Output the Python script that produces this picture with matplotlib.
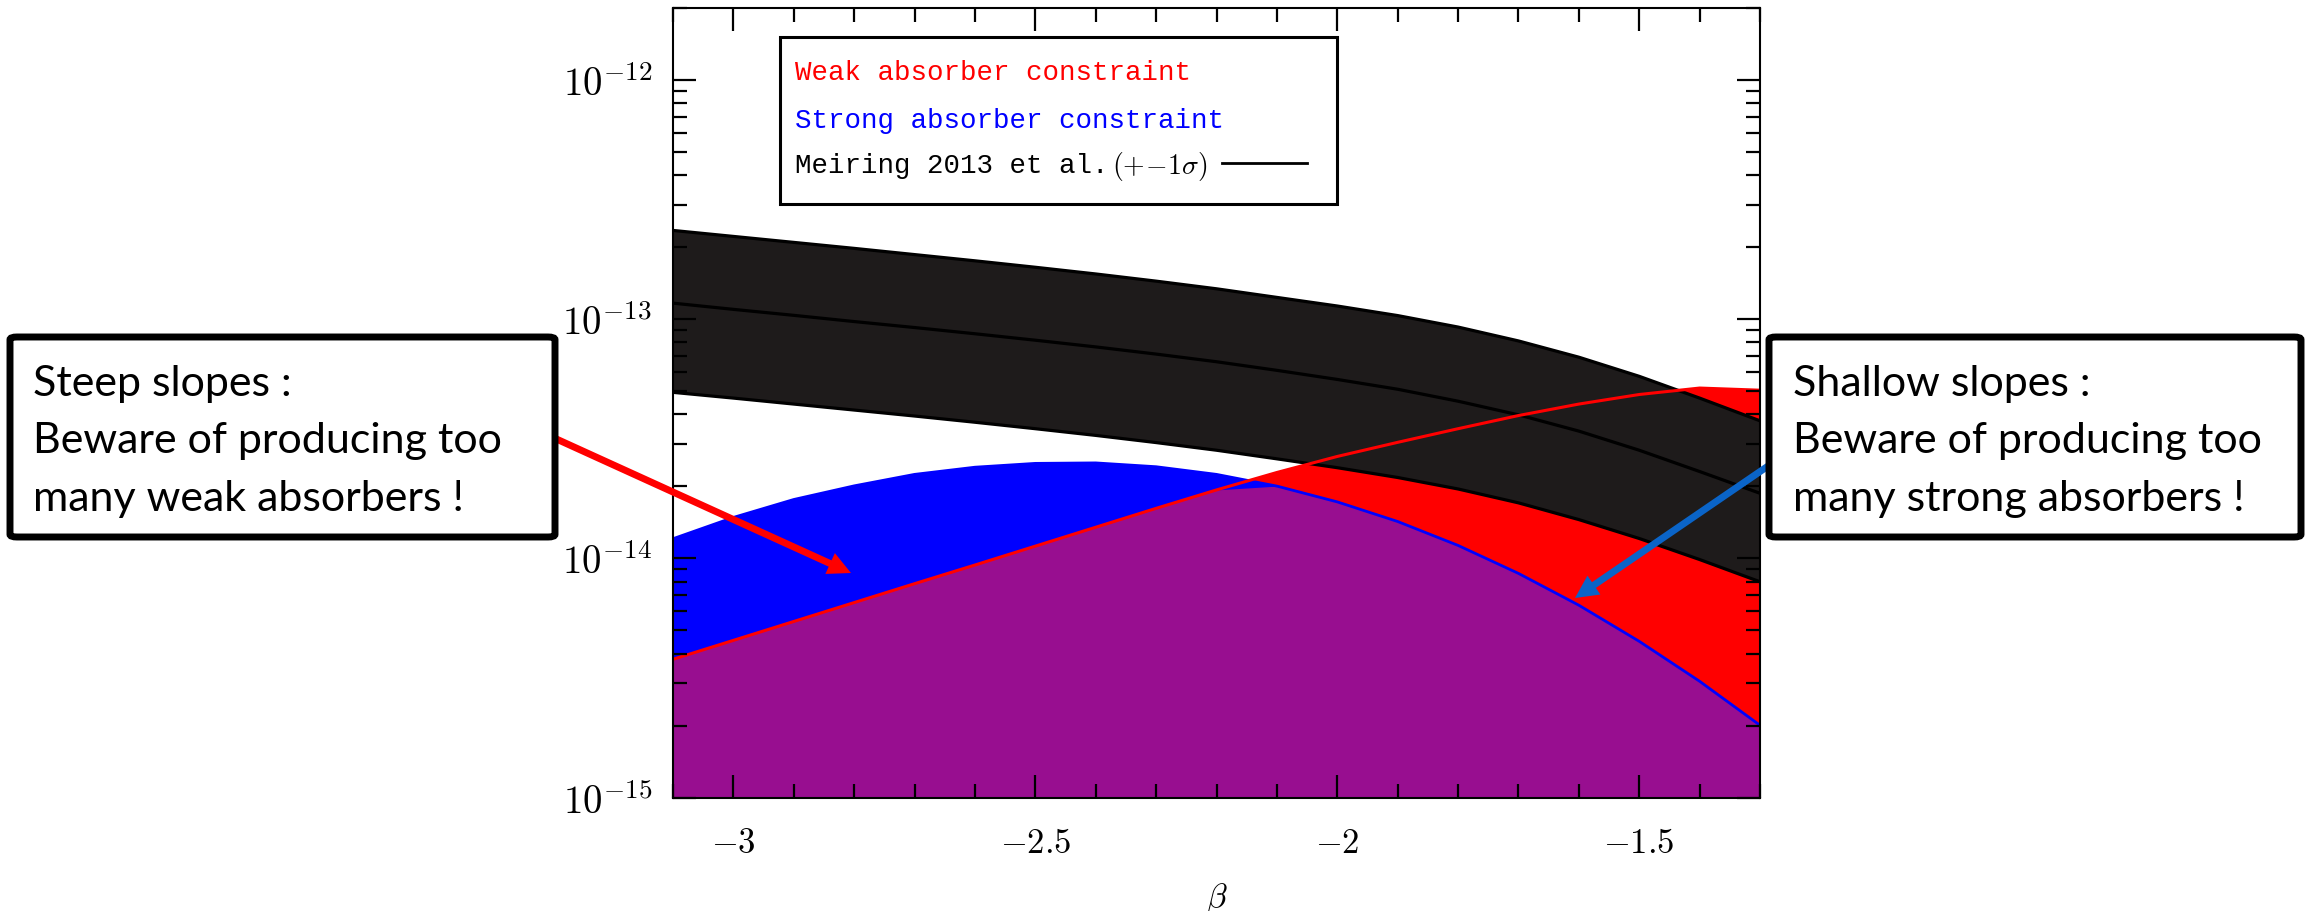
import numpy as np
import matplotlib.pyplot as plt
from matplotlib.patches import Rectangle, FancyBboxPatch
from matplotlib.ticker import LogLocator, MultipleLocator, NullFormatter

plt.rcParams['mathtext.fontset'] = 'cm'

# slope beta, and log10 of the constraints read along it
beta = [-3.1, -3.0, -2.9, -2.8, -2.7, -2.6, -2.5, -2.4, -2.3, -2.2,
        -2.1, -2.0, -1.9, -1.8, -1.7, -1.6, -1.5, -1.4, -1.3]
# Meiring et al. 2013, +/- 1 sigma band and central value
meiring_hi = [-12.629, -12.654, -12.679, -12.704, -12.730, -12.756, -12.783, -12.811, -12.841, -12.873,
              -12.909, -12.945, -12.985, -13.033, -13.091, -13.159, -13.239, -13.330, -13.425]
meiring_mid = [-12.933, -12.959, -12.984, -13.010, -13.035, -13.061, -13.088, -13.116, -13.146, -13.178,
               -13.214, -13.252, -13.293, -13.343, -13.400, -13.468, -13.548, -13.637, -13.728]
meiring_lo = [-13.306, -13.330, -13.355, -13.380, -13.405, -13.431, -13.458, -13.486, -13.516, -13.548,
              -13.584, -13.621, -13.662, -13.710, -13.768, -13.838, -13.917, -14.005, -14.098]
# upper limits from weak and strong absorbers
weak_lim = [-14.422, -14.343, -14.264, -14.185, -14.106, -14.028, -13.949, -13.870, -13.791, -13.714,
            -13.641, -13.574, -13.515, -13.458, -13.403, -13.355, -13.315, -13.288, -13.297]
strong_lim = [-13.918, -13.829, -13.754, -13.697, -13.649, -13.619, -13.603, -13.601, -13.617, -13.649,
              -13.698, -13.764, -13.846, -13.946, -14.063, -14.196, -14.347, -14.514, -14.698]

x_ticks = [-3, -2.5, -2, -1.5]
x_ticklabels = [r'$-3$', r'$-2.5$', r'$-2$', r'$-1.5$']
y_ticks = [1e-15, 1e-14, 1e-13, 1e-12]
y_ticklabels = [r'$10^{-15}$', r'$10^{-14}$', r'$10^{-13}$', r'$10^{-12}$']

legend_labels = ['Weak absorber constraint', 'Strong absorber constraint', 'Meiring 2013 et al.']
sigma_label = r'$(+\!-\!1\sigma)$'
left_note = ['Steep slopes :', 'Beware of producing too', 'many weak absorbers !']
right_note = ['Shallow slopes :', 'Beware of producing too', 'many strong absorbers !']

W, H = 2318, 912
fig = plt.figure(figsize=(W / 100, H / 100), dpi=100)


def fx(px):
    return px / W


def fy(py):
    return 1 - py / H


ax = fig.add_axes([fx(673), fy(798.5), (1760 - 673) / W, (798.5 - 9) / H])
ax.set_yscale('log')
ax.set_xlim(-3.1, -1.3)
ax.set_ylim(1e-15, 2e-12)

b = np.array(beta)
hi = 10 ** np.array(meiring_hi)
mid = 10 ** np.array(meiring_mid)
lo = 10 ** np.array(meiring_lo)
weak = 10 ** np.array(weak_lim)
strong = 10 ** np.array(strong_lim)

red = '#ff0000'
blue = '#0000ff'
purple = '#980e90'
band = '#1e1b1b'

ax.fill_between(b, 1e-15, weak, color=red, lw=0, zorder=1)
ax.fill_between(b, 1e-15, strong, color=blue, lw=0, zorder=1.1)
ax.fill_between(b, 1e-15, np.minimum(weak, strong), color=purple, lw=0, zorder=1.2)
ax.fill_between(b, lo, hi, color=band, lw=0, zorder=1.3)
for curve in (hi, mid, lo):
    ax.plot(b, curve, color='black', lw=2.3, zorder=1.5)
ax.plot(b, weak, color=red, lw=2.2, zorder=1.7)
ax.plot(b, strong, color=blue, lw=2.0, zorder=1.6)

ax.set_axisbelow(False)
ax.set_xticks(x_ticks, labels=x_ticklabels)
ax.set_yticks(y_ticks, labels=y_ticklabels)
ax.xaxis.set_minor_locator(MultipleLocator(0.1))
ax.yaxis.set_minor_locator(LogLocator(base=10, subs=np.arange(2, 10)))
ax.yaxis.set_minor_formatter(NullFormatter())
ax.tick_params(which='both', direction='in', top=True, right=True, width=1.6, color='black')
ax.tick_params(which='major', length=16.5)
ax.tick_params(which='minor', length=10)
ax.tick_params(axis='x', labelsize=25, pad=20)
ax.tick_params(axis='y', labelsize=28, pad=15)
for s in ax.spines.values():
    s.set_linewidth(1.5)

ax.set_xlabel(r'$\beta$', fontsize=24)
ax.xaxis.set_label_coords(0.5, -0.105)

# legend box drawn by hand
fig.add_artist(Rectangle((fx(780), fy(205)), (1337 - 780) / W, (205 - 38) / H,
                         transform=fig.transFigure, facecolor='white',
                         edgecolor='black', lw=2.2, zorder=3))
leg_colors = [red, blue, 'black']
leg_base = [80, 128, 173]
leg_texts = []
for lab, c, yb in zip(legend_labels, leg_colors, leg_base):
    leg_texts.append(fig.text(fx(795), fy(yb), lab, color=c, fontsize=19.8,
                              family='Liberation Mono', va='baseline', ha='left', zorder=4))
# put the sigma part straight after "al."
renderer = fig.canvas.get_renderer()
end_px = leg_texts[-1].get_window_extent(renderer=renderer).x1
fig.text(fx(end_px + 3), fy(174), sigma_label, color='black', fontsize=20,
         va='baseline', ha='left', zorder=4)
fig.add_artist(plt.Line2D([fx(1222), fx(1307)], [fy(164), fy(164)],
                          transform=fig.transFigure, color='black', lw=2.0, zorder=4))

# callout boxes
for x0, x1, lines, tx in [(10, 555, left_note, 33), (1769, 2301, right_note, 1793)]:
    fig.add_artist(FancyBboxPatch((fx(x0), fy(538)), (x1 - x0) / W, (538 - 338) / H,
                                  boxstyle='round,pad=0,rounding_size=0.003',
                                  transform=fig.transFigure, facecolor='white',
                                  edgecolor='black', lw=5, zorder=3))
    for txt, yb in zip(lines, [396, 453, 511]):
        fig.text(fx(tx), fy(yb), txt, fontsize=31, family='Lato',
                 va='baseline', ha='left', zorder=4)

arrow_kw = dict(arrowstyle='simple,head_length=1.65,head_width=1.65,tail_width=0.5',
                mutation_scale=10, lw=0, shrinkA=0, shrinkB=0)
ax.annotate('', xy=(fx(851), fy(574)), xytext=(fx(552), fy(438)),
            xycoords='figure fraction', textcoords='figure fraction',
            arrowprops=dict(color=red, **arrow_kw), zorder=5)
ax.annotate('', xy=(fx(1575), fy(599)), xytext=(fx(1774), fy(463)),
            xycoords='figure fraction', textcoords='figure fraction',
            arrowprops=dict(color='#0a64c8', **arrow_kw), zorder=5)

fig.savefig('out.png', dpi=100)
